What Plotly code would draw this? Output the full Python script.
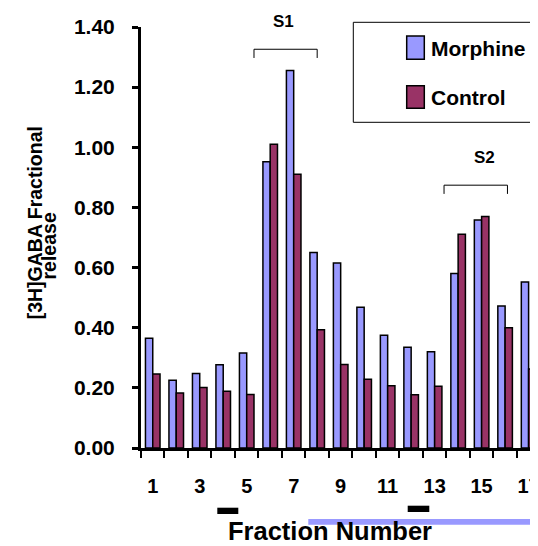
import plotly.graph_objects as go

fractions = list(range(1, 18))
morphine = [0.365, 0.225, 0.248, 0.277, 0.316, 0.952, 1.255, 0.650, 0.615, 0.468,
            0.375, 0.335, 0.320, 0.580, 0.758, 0.472, 0.552]
control = [0.246, 0.183, 0.201, 0.189, 0.178, 1.010, 0.910, 0.393, 0.278, 0.229,
           0.207, 0.177, 0.205, 0.711, 0.770, 0.400, 0.263]
x_tick_labels = [str(v) for v in range(1, 18, 2)]
y_ticks = [0.0, 0.2, 0.4, 0.6, 0.8, 1.0, 1.2, 1.4]

MORPH_COL = "#9999FF"
CTRL_COL = "#993366"
FONT = "Liberation Sans, Arial, Helvetica, sans-serif"

fig = go.Figure()
fig.add_trace(go.Bar(x=fractions, y=morphine, name="Morphine",
                     marker=dict(color=MORPH_COL, line=dict(color="black", width=1.5))))
fig.add_trace(go.Bar(x=fractions, y=control, name="Control",
                     marker=dict(color=CTRL_COL, line=dict(color="black", width=1.5))))

OFF = 8  # page body margin
W, H = 538 - OFF, 546 - OFF
L, R, T, B = 133, 0, 19, 98
pw, ph = W - L - R, H - T - B

def px(xr):
    return (xr - OFF - L) / pw

def py(yr):
    return (H - B - (yr - OFF)) / ph

shapes = []
# S1 / S2 brackets (data coordinates)
for (x0, x1, yl, yt) in [(5.31, 8.0, 1.326, 1.297), (13.4, 16.1, 0.874, 0.845)]:
    shapes.append(dict(type="path", xref="x", yref="y",
                       path=f"M {x0},{yt} L {x0},{yl} L {x1},{yl} L {x1},{yt}",
                       line=dict(color="black", width=1)))
# treatment bars under axis
shapes.append(dict(type="rect", xref="paper", yref="paper", x0=px(217.3), x1=px(238.3),
                   y0=py(514), y1=py(507.7), fillcolor="black", line=dict(width=0)))
shapes.append(dict(type="rect", xref="paper", yref="paper", x0=px(407.7), x1=px(429.3),
                   y0=py(512), y1=py(505.7), fillcolor="black", line=dict(width=0)))
shapes.append(dict(type="rect", xref="paper", yref="paper", x0=px(308.3), x1=px(560),
                   y0=py(524.7), y1=py(519), fillcolor=MORPH_COL, line=dict(width=0)))
# legend box
shapes.append(dict(type="rect", xref="paper", yref="paper", x0=px(353.3), x1=px(580),
                   y0=py(122.3), y1=py(22.3), fillcolor="white", line=dict(color="black", width=1)))
shapes.append(dict(type="rect", xref="paper", yref="paper", x0=px(406.7), x1=px(424.3),
                   y0=py(59.3), y1=py(36), fillcolor=MORPH_COL, line=dict(color="black", width=1.5)))
shapes.append(dict(type="rect", xref="paper", yref="paper", x0=px(406.7), x1=px(424.3),
                   y0=py(108.3), y1=py(85.7), fillcolor=CTRL_COL, line=dict(color="black", width=1.5)))

bold = dict(family=FONT, color="black", weight="bold")
annotations = [
    dict(text="S1", x=px(283.3), y=py(21.3), xref="paper", yref="paper", showarrow=False,
         xanchor="center", yanchor="middle", font=dict(size=17, **bold)),
    dict(text="S2", x=px(484), y=py(157), xref="paper", yref="paper", showarrow=False,
         xanchor="center", yanchor="middle", font=dict(size=17, **bold)),
    dict(text="Morphine", x=px(429), y=py(48), xref="paper", yref="paper", showarrow=False,
         xanchor="left", yanchor="middle", font=dict(size=21, **bold)),
    dict(text="Control", x=px(429), y=py(97), xref="paper", yref="paper", showarrow=False,
         xanchor="left", yanchor="middle", font=dict(size=21, **bold)),
    dict(text="Fraction Number", x=px(330), y=py(531), xref="paper", yref="paper",
         showarrow=False, xanchor="center", yanchor="middle", font=dict(size=25.5, **bold)),
    dict(text="[3H]GABA Fractional", x=px(35), y=py(223.3), xref="paper", yref="paper",
         showarrow=False, textangle=-90, xanchor="center", yanchor="middle",
         font=dict(size=19.5, **bold)),
    dict(text="release", x=px(48.5), y=py(246), xref="paper", yref="paper",
         showarrow=False, textangle=-90, xanchor="center", yanchor="middle",
         font=dict(size=19.5, **bold)),
]

fig.update_layout(
    width=W, height=H,
    margin=dict(l=L, r=R, t=T, b=B, autoexpand=False),
    paper_bgcolor="white", plot_bgcolor="white",
    barmode="group", bargap=0.38, bargroupgap=0,
    showlegend=False,
    shapes=shapes, annotations=annotations,
    font=dict(family=FONT, color="black"),
)
fig.update_xaxes(
    range=[0.5, 17.4], showgrid=False, zeroline=False,
    showline=True, linecolor="black", linewidth=2.5,
    tickmode="array", tickvals=list(range(1, 18, 2)), ticktext=x_tick_labels,
    ticks="", ticklabelstandoff=18, ticklabeloverflow="allow",
    tickfont=dict(size=20, **bold),
    minor=dict(tickmode="array", tickvals=[v + 0.5 for v in range(0, 17)],
               ticks="outside", ticklen=7, tickwidth=2, tickcolor="black", showgrid=False),
)
fig.update_yaxes(
    range=[0, 1.4], showgrid=False, zeroline=False,
    showline=True, linecolor="black", linewidth=3,
    tickmode="array", tickvals=y_ticks, tickformat=".2f",
    ticks="outside", ticklen=6, tickwidth=2.5, tickcolor="black",
    ticklabelstandoff=13,
    tickfont=dict(size=21, **bold),
)

fig.write_html("out.html")
